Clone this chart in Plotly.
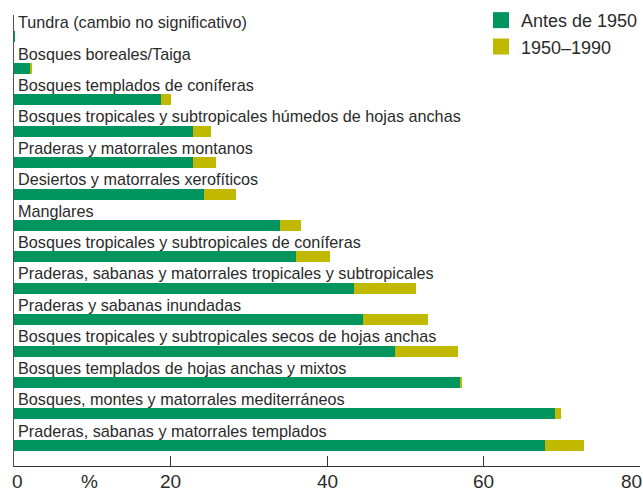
import plotly.graph_objects as go

categories = [
    "Tundra (cambio no significativo)",
    "Bosques boreales/Taiga",
    "Bosques templados de coníferas",
    "Bosques tropicales y subtropicales húmedos de hojas anchas",
    "Praderas y matorrales montanos",
    "Desiertos y matorrales xerofíticos",
    "Manglares",
    "Bosques tropicales y subtropicales de coníferas",
    "Praderas, sabanas y matorrales tropicales y subtropicales",
    "Praderas y sabanas inundadas",
    "Bosques tropicales y subtropicales secos de hojas anchas",
    "Bosques templados de hojas anchas y mixtos",
    "Bosques, montes y matorrales mediterráneos",
    "Praderas, sabanas y matorrales templados",
]
antes_1950 = [0.15, 2.0, 18.8, 22.9, 22.9, 24.3, 34.0, 36.0, 43.5, 44.6, 48.7, 57.0, 69.1, 67.9]
periodo_1950_1990 = [0.0, 0.3, 1.3, 2.3, 2.9, 4.1, 2.7, 4.4, 7.9, 8.3, 8.1, 0.2, 0.8, 5.0]
series_names = ["Antes de 1950", "1950–1990"]
tick_vals = [0, 20, 40, 60, 80]
tick_labels = ["0", "20", "40", "60", "80"]
unit_label = "%"

GREEN = "#00945f"
YELLOW = "#c1b800"
TEXT = "#2b2b2b"
FONT = "Liberation Sans, Arial, Helvetica, sans-serif"

rows = list(range(len(categories)))

fig = go.Figure()
fig.add_trace(go.Bar(y=rows, x=antes_1950, orientation="h", width=0.35,
                     marker=dict(color=GREEN, line=dict(width=0)),
                     showlegend=False, hoverinfo="skip"))
fig.add_trace(go.Bar(y=rows, x=periodo_1950_1990, orientation="h", width=0.35,
                     marker=dict(color=YELLOW, line=dict(width=0)),
                     showlegend=False, hoverinfo="skip"))
# legend entries
for name, col in zip(series_names, [GREEN, YELLOW]):
    fig.add_trace(go.Scatter(x=[None], y=[None], mode="markers", name=name,
                             marker=dict(symbol="square", size=16, color=col)))

annotations = []
for i, cat in enumerate(categories):
    annotations.append(dict(x=0, y=i - 0.47, xref="x", yref="y", text=cat,
                            showarrow=False, xanchor="left", yanchor="middle",
                            xshift=2, font=dict(size=16.2, color=TEXT, family=FONT)))
for v, lab in zip(tick_vals, tick_labels):
    anchor = "left" if v == tick_vals[0] else ("right" if v == tick_vals[-1] else "center")
    annotations.append(dict(x=v, y=0, xref="x", yref="paper", text=lab,
                            showarrow=False, xanchor=anchor, yanchor="middle",
                            borderpad=0,
                            xshift=(-3 if anchor == "left" else (3 if anchor == "right" else 0)),
                            yshift=-15, font=dict(size=19, color=TEXT, family=FONT)))
annotations.append(dict(x=9.7, y=0, xref="x", yref="paper", text=unit_label,
                        showarrow=False, xanchor="center", yanchor="middle",
                        borderpad=0,
                        yshift=-15, font=dict(size=19, color=TEXT, family=FONT)))

fig.update_layout(
    width=643, height=490,
    margin=dict(l=14, r=3, t=15, b=24, autoexpand=False),
    paper_bgcolor="white", plot_bgcolor="white",
    barmode="stack", bargap=0,
    font=dict(family=FONT, color=TEXT),
    showlegend=True,
    legend=dict(x=0.746, y=1.029, xanchor="left", yanchor="top",
                traceorder="normal",
                font=dict(size=18, color=TEXT, family=FONT),
                bgcolor="rgba(0,0,0,0)", itemsizing="trace",
                tracegroupgap=0),
    annotations=annotations,
    xaxis=dict(range=[0, 80], tickvals=tick_vals, showticklabels=False,
               ticks="inside", ticklen=10, tickcolor="#333", tickwidth=1,
               showline=True, linecolor="#333", linewidth=1,
               showgrid=False, zeroline=False, fixedrange=True),
    yaxis=dict(range=[13.66, -0.70], showticklabels=False, ticks="",
               showline=True, linecolor="#555", linewidth=1,
               showgrid=False, zeroline=False, fixedrange=True),
)

# remove the default page margin so the figure sits at the window's corner
fig.write_html("out.html",
               config={"displayModeBar": False, "staticPlot": True},
               post_script="document.body.style.margin='0';document.body.style.overflow='hidden';")
